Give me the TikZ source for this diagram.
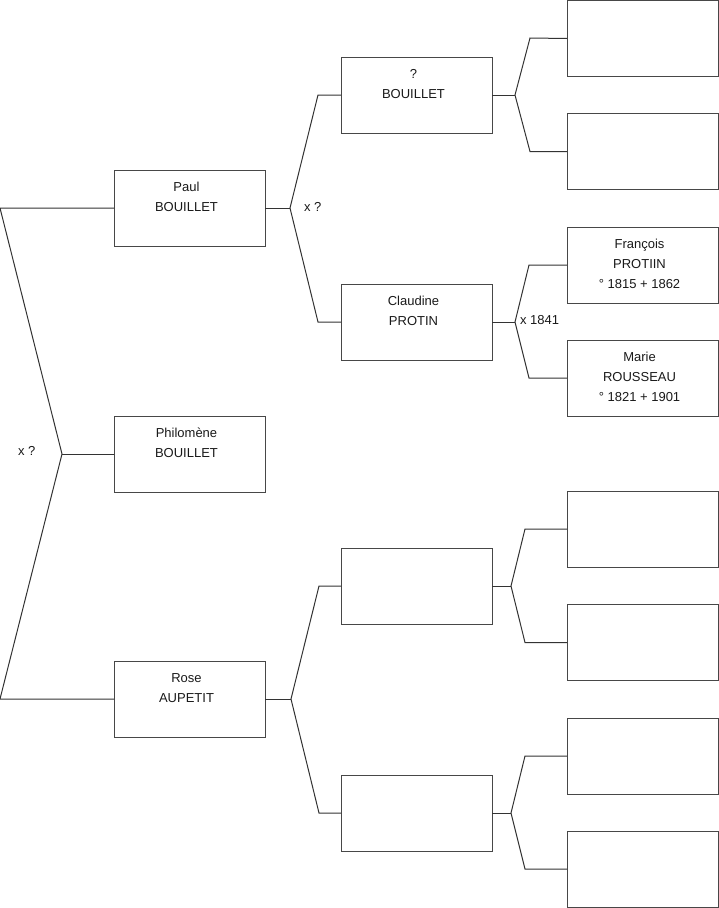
\documentclass[tikz,border=0pt]{standalone}
\usepackage{fontspec}
\setmainfont{Liberation Sans}
\begin{document}
\begin{tikzpicture}[x=1pt,y=-1pt,
  box/.style={draw=black!72,line width=1pt,minimum width=151pt,minimum height=76pt,inner sep=0pt,outer sep=0pt,anchor=north west},
  txt/.style={anchor=north,align=center,inner sep=0pt,outer sep=0pt,font=\fontsize{13}{20}\selectfont,text=black!90},
  lab/.style={anchor=base west,inner sep=0pt,outer sep=0pt,font=\fontsize{13}{15}\selectfont,text=black!90},
  link/.style={draw=black!80,line width=1pt,line join=miter}]
\useasboundingbox (0,0) rectangle (719,908);
% generation 1
\node[box] (paul) at (114,170) {};
\node[box] (phil) at (114,416) {};
\node[box] (rose) at (114,661) {};
% generation 2
\node[box] (g2a) at (341,57) {};
\node[box] (g2b) at (341,284) {};
\node[box] (g2c) at (341,548) {};
\node[box] (g2d) at (341,775) {};
% generation 3
\node[box] (g3a) at (567,0.5) {};
\node[box] (g3b) at (567,113.5) {};
\node[box] (g3c) at (567,227) {};
\node[box] (g3d) at (567,340) {};
\node[box] (g3e) at (567,491) {};
\node[box] (g3f) at (567,604.5) {};
\node[box] (g3g) at (567,718) {};
\node[box] (g3h) at (567,831) {};
% texts
\node[txt] (tpaul) at ([xshift=-3pt,yshift=-9.5pt]paul.north) {\rule{0pt}{12pt}Paul\\BOUILLET};
\node[txt] (tphil) at ([xshift=-3pt,yshift=-9.5pt]phil.north) {\rule{0pt}{12pt}Philomène\\BOUILLET};
\node[txt] (trose) at ([xshift=-3pt,yshift=-9.5pt]rose.north) {\rule{0pt}{12pt}Rose\\AUPETIT};
\node[txt] (tg2a) at ([xshift=-3pt,yshift=-9.5pt]g2a.north) {\rule{0pt}{12pt}?\\BOUILLET};
\node[txt] (tg2b) at ([xshift=-3pt,yshift=-9.5pt]g2b.north) {\rule{0pt}{12pt}Claudine\\PROTIN};
\node[txt] (tg3c) at ([xshift=-3pt,yshift=-9.5pt]g3c.north) {\rule{0pt}{12pt}François\\PROTIIN\\° 1815 + 1862};
\node[txt] (tg3d) at ([xshift=-3pt,yshift=-9.5pt]g3d.north) {\rule{0pt}{12pt}Marie\\ROUSSEAU\\° 1821 + 1901};
% joints
\coordinate (j0) at (62,454);
\coordinate (j0a) at (0,208);
\coordinate (j0b) at (0,699);
\coordinate (j1) at (290,208);
\coordinate (j1a) at (318,95);
\coordinate (j1b) at (318,322);
\coordinate (j2) at (291,699);
\coordinate (j2a) at (319,586);
\coordinate (j2b) at (319,813);
\coordinate (j3) at (515,95);
\coordinate (j3a) at (530,38);
\coordinate (j3b) at (530,151.5);
\coordinate (j4) at (515,322);
\coordinate (j4a) at (529,265);
\coordinate (j4b) at (529,378);
\coordinate (j5) at (511,586);
\coordinate (j5a) at (525,529);
\coordinate (j5b) at (525,642.5);
\coordinate (j6) at (511,813);
\coordinate (j6a) at (525,756);
\coordinate (j6b) at (525,869);
% connectors
\draw[link] (paul.west) -- (j0a) -- (j0) -- (j0b) -- (rose.west);
\draw[link] (j0) -- (phil.west);
\draw[link] (paul.east) -- (j1);
\draw[link] (g2a.west) -- (j1a) -- (j1) -- (j1b) -- (g2b.west);
\draw[link] (rose.east) -- (j2);
\draw[link] (g2c.west) -- (j2a) -- (j2) -- (j2b) -- (g2d.west);
\draw[link] (g2a.east) -- (j3);
\draw[link] (g3a.west) -- (j3a) -- (j3) -- (j3b) -- (g3b.west);
\draw[link] (g2b.east) -- (j4);
\draw[link] (g3c.west) -- (j4a) -- (j4) -- (j4b) -- (g3d.west);
\draw[link] (g2c.east) -- (j5);
\draw[link] (g3e.west) -- (j5a) -- (j5) -- (j5b) -- (g3f.west);
\draw[link] (g2d.east) -- (j6);
\draw[link] (g3g.west) -- (j6a) -- (j6) -- (j6b) -- (g3h.west);
% marriage labels
\node[lab] (m0) at (18,455.5) {x ?};
\node[lab] (m1) at (304,211) {x ?};
\node[lab] (m2) at (520,324.5) {x 1841};
\end{tikzpicture}
\end{document}
